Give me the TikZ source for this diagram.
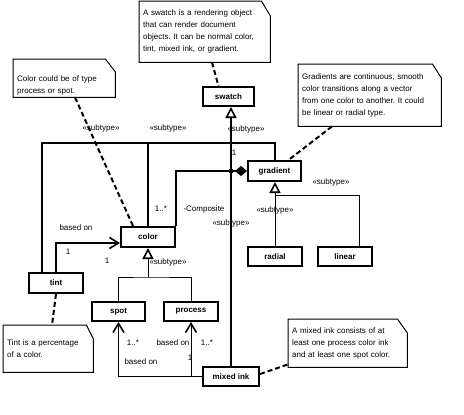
\documentclass[tikz,border=0pt]{standalone}
\usepackage{fontspec}
\setmainfont{Liberation Sans}
\usetikzlibrary{arrows.meta}
\frenchspacing
\newcommand{\drawnote}[3]{\draw[noteline] (#1.north west) -- ([xshift=-#2pt]#1.north east) -- ([yshift=-#3pt]#1.north east) -- (#1.south east) -- (#1.south west) -- cycle;}
\begin{document}
\begin{tikzpicture}[x=1pt,y=-1pt,
  cls/.style={draw, line width=2pt, font=\fontsize{8}{10}\selectfont\bfseries, inner sep=0pt, minimum height=19pt, fill=white},
  note/.style={align=left, font=\fontsize{8}{12}\selectfont\frenchspacing, inner xsep=4pt, inner ysep=0pt, anchor=north west},
  noteline/.style={line width=1pt},
  lbl/.style={font=\fontsize{8}{10}\selectfont, inner sep=0pt},
  tl/.style={line width=2pt},
  thinl/.style={line width=1pt},
  genarrow/.style={-{Triangle[open, length=11pt, width=11pt, line width=1.6pt]}},
  basedon/.style={-{Straight Barb[length=9pt, width=11pt, line width=1.6pt]}},
  notelink/.style={line width=2pt, dash pattern=on 5pt off 3pt}
]
\fill[white] (0,0) rectangle (464,415);
\useasboundingbox (0,0) rectangle (464,415);

% notes
\node[note, text width=123pt, minimum height=61pt] (swn) at (139,1) {A swatch is a rendering object\\that can render document\\objects. It can be normal color,\\tint, mixed ink, or gradient.};
\drawnote{swn}{9}{15}
\node[note, text width=94pt, minimum height=38pt] (coln) at (13,59) {\rule{0pt}{20pt}Color could be of type\\process or spot.};
\drawnote{coln}{10}{13}
\node[note, text width=135pt, minimum height=62pt] (grn) at (298,64) {Gradients are continuous, smooth\\color transitions along a vector\\from one color to another. It could\\be linear or radial type.};
\drawnote{grn}{9}{14}
\node[note, text width=82pt, minimum height=47pt] (tintn) at (3,325) {Tint is a percentage\\of a color.};
\drawnote{tintn}{7}{14}
\node[note, text width=111pt, minimum height=48pt] (mixn) at (288,319) {A mixed ink consists of at\\least one process color ink\\and at least one spot color.};
\drawnote{mixn}{10}{14}

% classes
\node[cls, minimum width=51pt] (swatch) at (228.5,96.5) {swatch};
\node[cls, minimum width=53pt, minimum height=20pt] (gradient) at (274.5,171) {gradient};
\node[cls, minimum width=54pt, minimum height=20pt] (color) at (148,237) {color};
\node[cls, minimum width=54pt, minimum height=20pt] (tint) at (56,283) {tint};
\node[cls, minimum width=53pt] (spot) at (118.5,311.5) {spot};
\node[cls, minimum width=54pt] (process) at (191,311.5) {process};
\node[cls, minimum width=54pt] (radial) at (275,256.5) {radial};
\node[cls, minimum width=54pt] (linear) at (345,256.5) {linear};
\node[cls, minimum width=56pt] (mixed) at (231,376.5) {mixed ink};

% swatch generalization tree
\coordinate (hb) at (0,143);
\draw[tl] ([xshift=14pt]tint.north west) |- (hb -| gradient.north) -- (gradient.north);
\draw[tl] (hb -| color.north) -- (color.north);
\draw[tl, genarrow] (mixed.north) -- (mixed.north |- swatch.south);

% composite
\draw[tl, {Diamond[length=12pt, width=10pt]}-] (gradient.west) -| (color.north east);
\fill (mixed.north |- gradient.west) circle (2.5pt);

% tint based on color
\draw[tl, basedon] ([xshift=28pt]tint.north west) |- ([yshift=5pt]color.south west);

% color subtypes
\coordinate (cj) at (148,277);
\draw[thinl, genarrow] (cj) -- (color.south);
\draw[thinl] (spot.north) |- (cj) -| (process.north);

% gradient subtypes
\coordinate (gj) at (0,195);
\draw[thinl, genarrow] (radial.north) -- (radial.north |- gradient.south);
\draw[thinl] (radial.north |- gj) -| ([xshift=-14pt]linear.north east);

% mixed ink based on spot / process
\draw[thinl, basedon] (mixed.west) -| (spot.south);
\draw[thinl, basedon] (mixed.west -| process.south) -- (process.south);

% note links
\draw[notelink] ([xshift=73pt]swn.south west) -- ([xshift=-10pt]swatch.north);
\draw[notelink] ([xshift=62pt]coln.south west) -- ([xshift=-15pt]color.north);
\draw[notelink] ([xshift=34pt]grn.south west) -- ([xshift=14pt]gradient.north);
\draw[notelink] (tint.south) -- ([xshift=49pt]tintn.north west);
\draw[notelink] ([yshift=2.5pt]mixed.east) -- ([yshift=3pt]mixn.south west);

% labels
\node[lbl] (s1) at (101,128) {«subtype»};
\node[lbl] (s2) at (168,128) {«subtype»};
\node[lbl] (s3) at (246,129) {«subtype»};
\node[lbl] (s4) at (231,223) {«subtype»};
\node[lbl] (s5) at (331,182) {«subtype»};
\node[lbl] (s6) at (275,210) {«subtype»};
\node[lbl] (s7) at (168,262) {«subtype»};
\node[lbl] (m1) at (234,153) {1};
\node[lbl] (m2) at (161,209) {1..*};
\node[lbl] (comp) at (204,209) {-Composite};
\node[lbl] (b1) at (76,228) {based on};
\node[lbl] (m3) at (68,252) {1};
\node[lbl] (m4) at (107,261) {1};
\node[lbl] (m5) at (133,343) {1..*};
\node[lbl] (b2) at (141,362) {based on};
\node[lbl] (b3) at (173,343) {based on};
\node[lbl] (m6) at (207,343) {1..*};
\node[lbl] (m7) at (190,358) {1};
\end{tikzpicture}
\end{document}
